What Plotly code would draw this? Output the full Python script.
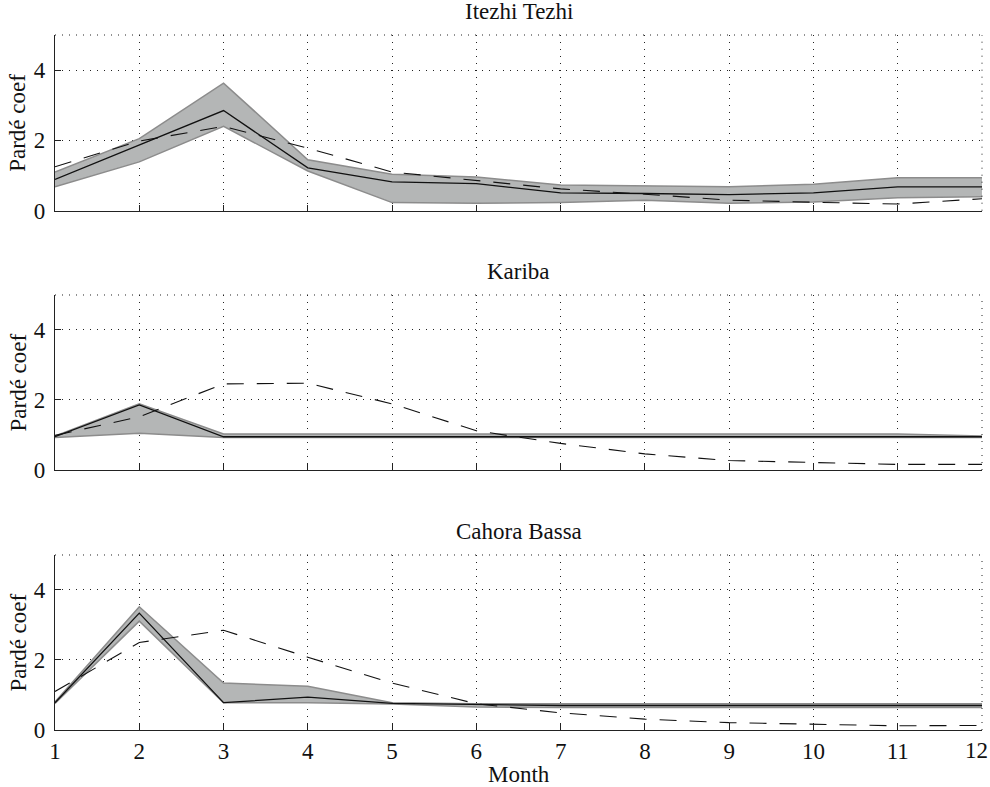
import plotly.graph_objects as go

months = list(range(1, 13))
x_ticks = list(range(1, 13))
x_ticktext = [str(m) for m in x_ticks]
y_ticks = [0, 2, 4]

itezhi_upper = [1.10, 2.05, 3.63, 1.45, 1.04, 0.96, 0.73, 0.71, 0.68, 0.75, 0.94, 0.94]
itezhi_lower = [0.68, 1.39, 2.40, 1.13, 0.23, 0.21, 0.23, 0.30, 0.21, 0.25, 0.37, 0.40]
itezhi_median = [0.89, 1.86, 2.85, 1.22, 0.82, 0.77, 0.51, 0.49, 0.46, 0.51, 0.68, 0.68]
itezhi_natural = [1.25, 1.98, 2.40, 1.78, 1.10, 0.87, 0.62, 0.47, 0.30, 0.24, 0.19, 0.34]

kariba_upper = [0.97, 1.89, 1.03, 1.03, 1.03, 1.03, 1.03, 1.03, 1.03, 1.03, 1.03, 0.97]
kariba_lower = [0.93, 1.05, 0.93, 0.93, 0.93, 0.93, 0.93, 0.93, 0.93, 0.93, 0.93, 0.93]
kariba_median = [0.95, 1.86, 0.95, 0.95, 0.95, 0.95, 0.95, 0.95, 0.95, 0.95, 0.95, 0.95]
kariba_natural = [0.99, 1.52, 2.46, 2.48, 1.89, 1.12, 0.76, 0.46, 0.27, 0.21, 0.16, 0.16]

cahora_upper = [0.80, 3.52, 1.34, 1.25, 0.78, 0.75, 0.75, 0.75, 0.75, 0.75, 0.75, 0.75]
cahora_lower = [0.76, 3.11, 0.78, 0.78, 0.74, 0.66, 0.64, 0.64, 0.64, 0.64, 0.64, 0.64]
cahora_median = [0.78, 3.34, 0.78, 0.94, 0.76, 0.73, 0.70, 0.70, 0.70, 0.70, 0.70, 0.70]
cahora_natural = [1.10, 2.50, 2.85, 2.08, 1.34, 0.75, 0.49, 0.31, 0.21, 0.16, 0.12, 0.13]

titles = ["Itezhi Tezhi", "Kariba", "Cahora Bassa"]
series = [
    (itezhi_upper, itezhi_lower, itezhi_median, itezhi_natural),
    (kariba_upper, kariba_lower, kariba_median, kariba_natural),
    (cahora_upper, cahora_lower, cahora_median, cahora_natural),
]

FONT = "Liberation Serif"
FS = 23
TXT = "#111111"
BAND_FILL = "#b4b6b6"
BAND_EDGE = "#8c8c8c"
GRID_COLOR = "#222222"
GRID_DASH = "1px,6px"
GRID = dict(showgrid=True, gridcolor=GRID_COLOR, gridwidth=1, griddash=GRID_DASH)

fig = go.Figure()
domains = [(0.7472, 1.0), (0.3741, 0.6259), (0.0, 0.2518)]

for i, (up, lo, med, nat) in enumerate(series):
    sfx = "" if i == 0 else str(i + 1)
    xa, ya = "x" + sfx, "y" + sfx
    fig.add_trace(go.Scatter(x=months, y=lo, xaxis=xa, yaxis=ya, mode="lines",
                             line=dict(color=BAND_EDGE, width=1.5), showlegend=False))
    fig.add_trace(go.Scatter(x=months, y=up, xaxis=xa, yaxis=ya, mode="lines",
                             fill="tonexty", fillcolor=BAND_FILL,
                             line=dict(color=BAND_EDGE, width=1.5), showlegend=False))
    fig.add_trace(go.Scatter(x=months, y=nat, xaxis=xa, yaxis=ya, mode="lines",
                             line=dict(color=TXT, width=1.1, dash="17px,13px"),
                             showlegend=False))
    fig.add_trace(go.Scatter(x=months, y=med, xaxis=xa, yaxis=ya, mode="lines",
                             line=dict(color=TXT, width=1.3), showlegend=False))

    xkey = "xaxis" if i == 0 else "xaxis" + str(i + 1)
    ykey = "yaxis" if i == 0 else "yaxis" + str(i + 1)
    fig.layout[xkey] = dict(
        domain=[0, 1], anchor=ya, range=[1, 12], tickvals=x_ticks,
        # last label is drawn separately so that it stays inside the window
        ticktext=x_ticktext[:-1] + [""],
        showticklabels=(i == 2), ticks="inside", ticklen=6, tickcolor="#222",
        showline=True, linecolor="#222", linewidth=1.3,
        zeroline=False, automargin=False, ticklabeloverflow="allow",
        tickfont=dict(family=FONT, size=FS, color=TXT),
        **GRID,
    )
    fig.layout[ykey] = dict(
        domain=list(domains[i]), anchor=xa, range=[0, 5], tickvals=y_ticks,
        ticks="inside", ticklen=6, tickcolor="#222",
        showline=True, linecolor="#222", linewidth=1.3,
        zeroline=False, automargin=False, ticklabelstandoff=4,
        ticklabeloverflow="allow",
        tickfont=dict(family=FONT, size=FS, color=TXT),
        **GRID,
    )
    # dotted grid lines along the top (y = 5) and right (month 12) edges of each panel
    fig.add_shape(type="line", xref="paper", yref="paper", x0=0, x1=1,
                  y0=domains[i][1], y1=domains[i][1],
                  line=dict(color=GRID_COLOR, width=1, dash=GRID_DASH))
    fig.add_shape(type="line", xref="paper", yref="paper", x0=1, x1=1,
                  y0=domains[i][0], y1=domains[i][1],
                  line=dict(color=GRID_COLOR, width=1, dash=GRID_DASH))
    fig.add_annotation(text=titles[i], xref="paper", yref="paper", x=0.5, y=domains[i][1],
                       yanchor="bottom", showarrow=False, yshift=9,
                       font=dict(family=FONT, size=FS, color=TXT))
    fig.add_annotation(text="Pardé coef", xref="paper", yref="paper",
                       x=-0.0399, y=(domains[i][0] + domains[i][1]) / 2,
                       xanchor="center", yanchor="middle", textangle=-90, showarrow=False,
                       font=dict(family=FONT, size=FS, color=TXT))

# last x tick label ("12"), right-aligned at the window edge
fig.add_annotation(text=x_ticktext[-1], xref="x3", yref="paper", x=x_ticks[-1], y=-0.0302,
                   xanchor="right", yanchor="middle", xshift=8, showarrow=False,
                   font=dict(family=FONT, size=FS, color=TXT))

fig.add_annotation(text="Month", xref="paper", yref="paper", x=0.5, y=-0.0676,
                   xanchor="center", yanchor="middle", showarrow=False, yshift=2,
                   font=dict(family=FONT, size=FS, color=TXT))

fig.update_layout(
    width=990, height=787,
    margin=dict(l=55, r=8, t=35, b=57),
    paper_bgcolor="white", plot_bgcolor="white",
    font=dict(family=FONT, size=FS, color=TXT),
)

# remove the browser's default 8px page margin so the figure fills the window
fig.write_html("out.html", config={"displayModeBar": False},
               post_script="document.body.style.margin='0px';document.body.style.overflow='hidden';")
